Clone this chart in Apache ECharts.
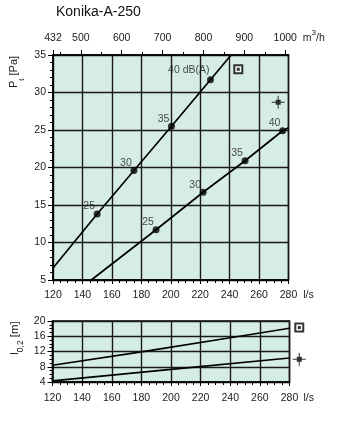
<!DOCTYPE html>
<html><head><meta charset="utf-8">
<script src="https://cdn.jsdelivr.net/npm/echarts@6/dist/echarts.min.js"></script>
<style>html,body{margin:0;padding:0;background:#fff}#c{width:338px;height:422px}</style>
</head><body><div id="c"></div>
<script>
// ---- data ----
const chartTitle = 'Konika-A-250';
const flowMin = 120, flowMax = 280, flowStep = 20;           // l/s
const m3hMajorTicks = [432, 500, 600, 700, 800, 900, 1000];   // m3/h labels
const m3hMinorTicks = [450, 550, 650, 750, 850, 950];
const paMin = 5, paMax = 35, paStep = 5;
const throwMin = 4, throwMax = 20, throwStep = 4;

// pressure curves (upper = one setting, lower = other)
const upperLineX = [120, 150, 175, 200.5, 227, 241];
const upperLineY = [6.6, 13.8, 19.6, 25.5, 31.7, 35];
const lowerLineX = [146, 190, 222, 250.5, 276, 280];
const lowerLineY = [5, 11.7, 16.7, 20.9, 24.9, 25.3];

// sound level points
const upperDotX = [150, 175, 200.5, 227];
const upperDotY = [13.8, 19.6, 25.5, 31.7];
const upperDotLabels = ['25', '30', '35', '40 dB(A)'];
const lowerDotX = [190, 222, 250.5, 276];
const lowerDotY = [11.7, 16.7, 20.9, 24.9];
const lowerDotLabels = ['25', '30', '35', '40'];

// throw curves
const throwUpperX = [120, 180, 240, 280];
const throwUpperY = [8.4, 11.9, 15.6, 18.1];
const throwLowerX = [120, 200, 280];
const throwLowerY = [4.3, 7.3, 10.3];

// legend icons (box = open setting, cross = other)
const boxIconTop = [245.9, 33.1];
const crossIconTop = [273, 28.7];
const boxIconBottom = [286.6, 18.3];
const crossIconBottom = [286.6, 10.0];

// ---- chart ----
const zip = (xs, ys) => xs.map((x, i) => [x, ys[i]]);
const FONT = '"Liberation Sans", Arial, sans-serif';
const TXT = '#1a1a1a';
const BG = '#d6ece7';
const crossPath = 'path://M4,4H9V9H4Z M0,6H13V7H0Z M6,0H7V13H6Z';
const plain = v => String(v);

function flowAxis(gridIndex, margin) {
  return {
    type: 'value', gridIndex, position: 'bottom',
    min: flowMin, max: flowMax, interval: flowStep,
    name: 'l/s', nameLocation: 'end', nameGap: 14,
    nameTextStyle: {fontFamily: FONT, fontSize: 10.5, color: TXT, verticalAlign: 'top', padding: [margin, 0, 0, 0]},
    axisLine: {show: true, lineStyle: {color: '#000', width: 1.5}},
    axisTick: {show: true, length: 4, lineStyle: {color: '#000', width: 1}},
    minorTick: {show: true, splitNumber: 4, length: 3, lineStyle: {color: '#000', width: 1}},
    axisLabel: {fontFamily: FONT, fontSize: 10.5, color: TXT, margin: margin, formatter: plain},
    splitLine: {show: true, lineStyle: {color: '#1a1a1a', width: 1.4}}
  };
}
function yAx(gridIndex, min, max, interval, minorSplit) {
  return {
    type: 'value', gridIndex, min, max, interval,
    axisLine: {show: true, lineStyle: {color: '#000', width: 1.5}},
    axisTick: {show: true, length: 5, lineStyle: {color: '#000', width: 1}},
    minorTick: {show: true, splitNumber: minorSplit, length: 3, lineStyle: {color: '#000', width: 1}},
    axisLabel: {fontFamily: FONT, fontSize: 10.5, color: TXT, margin: 7, formatter: plain},
    splitLine: {show: true, lineStyle: {color: '#1a1a1a', width: 1.4}}
  };
}
const dotLabel = {show: true, position: 'top', distance: 0, offset: [-8, 1.5],
  fontFamily: FONT, fontSize: 10.5, color: TXT};
function dots(xs, ys, labels, special) {
  return xs.map((x, i) => {
    const d = {value: [x, ys[i]], label: {formatter: labels[i]}};
    if (special && i === xs.length - 1) d.label = {formatter: labels[i], align: 'right', offset: [-1, -1]};
    return d;
  });
}
function lineSeries(xi, yi, xs, ys) {
  return {type: 'line', xAxisIndex: xi, yAxisIndex: yi, data: zip(xs, ys), symbol: 'none',
    lineStyle: {color: '#000', width: 1.7}, silent: true, z: 3};
}
function iconSeries(xi, yi, box, cross) {
  return [
    {type: 'scatter', xAxisIndex: xi, yAxisIndex: yi, clip: false, data: [box], symbol: 'emptyRect', symbolSize: 8,
      itemStyle: {color: '#000', borderWidth: 1}, z: 5},
    {type: 'scatter', xAxisIndex: xi, yAxisIndex: yi, clip: false, data: [box], symbol: 'rect', symbolSize: 3,
      itemStyle: {color: '#000'}, z: 6},
    {type: 'scatter', xAxisIndex: xi, yAxisIndex: yi, clip: false, data: [cross], symbol: crossPath, symbolSize: 13,
      itemStyle: {color: '#000'}, z: 6}
  ];
}

const chart = echarts.init(document.getElementById('c'), null, {renderer: 'canvas'});
chart.setOption({
  animation: false,
  backgroundColor: '#fff',
  title: {text: chartTitle, left: 56, top: 5, padding: 0,
    textStyle: {fontFamily: FONT, fontSize: 14, fontWeight: 'normal', color: '#111'}},
  grid: [
    {left: 53, top: 55, width: 235.5, height: 225, show: true, backgroundColor: BG, borderColor: '#000', borderWidth: 1.5},
    {left: 52.5, top: 321, width: 237, height: 61, show: true, backgroundColor: BG, borderColor: '#000', borderWidth: 1.5}
  ],
  xAxis: [
    flowAxis(0, 10),
    {type: 'value', gridIndex: 0, position: 'top', min: flowMin * 3.6, max: flowMax * 3.6,
      name: '{m|m}{s|3}{m|/h}', nameLocation: 'end', nameGap: 4,
      nameTextStyle: {verticalAlign: 'bottom', padding: [0, 0, 11, 0],
        rich: {m: {fontFamily: FONT, fontSize: 10.5, color: TXT, lineHeight: 15, verticalAlign: 'bottom'},
               s: {fontFamily: FONT, fontSize: 8, color: TXT, lineHeight: 9, verticalAlign: 'top'}}},
      axisLine: {show: true, lineStyle: {color: '#000', width: 1.5}},
      axisTick: {show: true, length: 5, customValues: m3hMajorTicks, lineStyle: {color: '#000', width: 1}},
      axisLabel: {fontFamily: FONT, fontSize: 10.5, color: TXT, margin: 11, customValues: m3hMajorTicks, formatter: plain},
      splitLine: {show: false}},
    {type: 'value', gridIndex: 0, position: 'top', min: flowMin * 3.6, max: flowMax * 3.6,
      axisLine: {show: false},
      axisTick: {show: true, length: 3, customValues: m3hMinorTicks, lineStyle: {color: '#000', width: 1}},
      axisLabel: {show: false}, splitLine: {show: false}},
    flowAxis(1, 11)
  ],
  yAxis: [
    yAx(0, paMin, paMax, paStep, 5),
    yAx(1, throwMin, throwMax, throwStep, 4)
  ],
  graphic: [
    {type: 'text', x: 17, y: 72, rotation: Math.PI / 2,
      style: {text: '{a|P}{b|t}{a| [Pa]}', align: 'center', verticalAlign: 'middle',
        rich: {a: {fontFamily: FONT, fontSize: 11, fill: TXT, lineHeight: 17, verticalAlign: 'top'},
               b: {fontFamily: FONT, fontSize: 8, fill: TXT, lineHeight: 9, verticalAlign: 'bottom'}}}},
    {type: 'text', x: 17, y: 338, rotation: Math.PI / 2,
      style: {text: '{a|l}{b|0,2}{a| [m]}', align: 'center', verticalAlign: 'middle',
        rich: {a: {fontFamily: FONT, fontSize: 11.5, fill: TXT, lineHeight: 17, verticalAlign: 'top'},
               b: {fontFamily: FONT, fontSize: 8.5, fill: TXT, lineHeight: 9, verticalAlign: 'bottom'}}}}
  ],
  series: [
    lineSeries(0, 0, upperLineX, upperLineY),
    lineSeries(0, 0, lowerLineX, lowerLineY),
    {type: 'scatter', xAxisIndex: 0, yAxisIndex: 0, symbol: 'circle', symbolSize: 7,
      itemStyle: {color: '#000'}, label: dotLabel, data: dots(upperDotX, upperDotY, upperDotLabels, true), z: 4},
    {type: 'scatter', xAxisIndex: 0, yAxisIndex: 0, symbol: 'circle', symbolSize: 7,
      itemStyle: {color: '#000'}, label: dotLabel, data: dots(lowerDotX, lowerDotY, lowerDotLabels, false), z: 4},
    ...iconSeries(0, 0, boxIconTop, crossIconTop),
    lineSeries(3, 1, throwUpperX, throwUpperY),
    lineSeries(3, 1, throwLowerX, throwLowerY),
    ...iconSeries(3, 1, boxIconBottom, crossIconBottom)
  ]
});
</script></body></html>
